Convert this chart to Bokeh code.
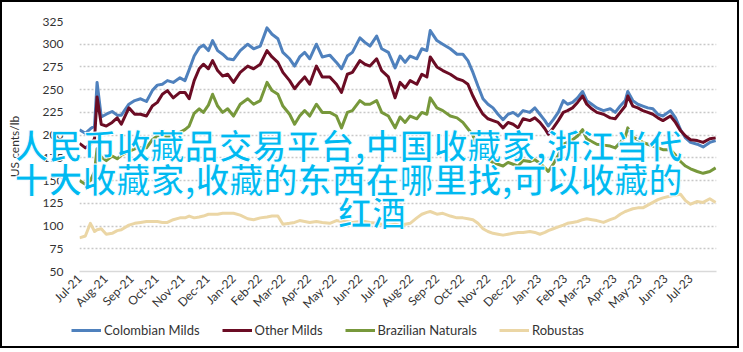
import math
import pandas as pd
from bokeh.plotting import figure
from bokeh.layouts import column
from bokeh.models import Range1d, FixedTicker, Legend, LegendItem, Label, ColumnDataSource
from bokeh.embed import file_html
from bokeh.resources import INLINE

# ---------------- data ----------------
dates = [
    "2021-07-01", "2021-07-08", "2021-07-14", "2021-07-19", "2021-07-22", "2021-07-27",
    "2021-08-02", "2021-08-09", "2021-08-15", "2021-08-20", "2021-08-29",
    "2021-09-05", "2021-09-12", "2021-09-19", "2021-09-26",
    "2021-10-02", "2021-10-08", "2021-10-14", "2021-10-21", "2021-10-29",
    "2021-11-04", "2021-11-09", "2021-11-15", "2021-11-21", "2021-11-26",
    "2021-12-02", "2021-12-07", "2021-12-13", "2021-12-19", "2021-12-25",
    "2022-01-01", "2022-01-09", "2022-01-18", "2022-01-25",
    "2022-02-02", "2022-02-10", "2022-02-16", "2022-02-23",
    "2022-03-01", "2022-03-09", "2022-03-15", "2022-03-21", "2022-03-27",
    "2022-04-02", "2022-04-10", "2022-04-17", "2022-04-26",
    "2022-05-04", "2022-05-10", "2022-05-17", "2022-05-23",
    "2022-06-01", "2022-06-07", "2022-06-13", "2022-06-21", "2022-06-27",
    "2022-07-05", "2022-07-13", "2022-07-19", "2022-07-25", "2022-07-31",
    "2022-08-08", "2022-08-14", "2022-08-20", "2022-08-24",
    "2022-09-01", "2022-09-08", "2022-09-17", "2022-09-25",
    "2022-10-02", "2022-10-08", "2022-10-14", "2022-10-20", "2022-10-26",
    "2022-11-01", "2022-11-07", "2022-11-13", "2022-11-19", "2022-11-25",
    "2022-12-01", "2022-12-07", "2022-12-13", "2022-12-21", "2022-12-27",
    "2023-01-02", "2023-01-08", "2023-01-12", "2023-01-18", "2023-01-24", "2023-01-30",
    "2023-02-04", "2023-02-10", "2023-02-16", "2023-02-22", "2023-02-27",
    "2023-03-05", "2023-03-11", "2023-03-19", "2023-03-27",
    "2023-04-02", "2023-04-08", "2023-04-14", "2023-04-17", "2023-04-23", "2023-04-29",
    "2023-05-05", "2023-05-11", "2023-05-17", "2023-05-23", "2023-05-29",
    "2023-06-07", "2023-06-13", "2023-06-19", "2023-06-25",
    "2023-07-01", "2023-07-09", "2023-07-16", "2023-07-24", "2023-07-31",
]

colombian_milds = [
    206, 202, 207, 210, 258, 220, 223, 226, 222, 222,
    234, 238, 240, 237, 249, 255, 256, 260, 258, 263,
    260, 272, 287, 296, 299, 293, 304, 293, 289, 284,
    283, 293, 300, 295, 298, 318, 311, 306, 291, 284,
    276, 286, 291, 284, 300, 286, 288, 280, 273, 287,
    291, 307, 302, 298, 309, 295, 291, 274, 287, 280,
    287, 284, 295, 293, 315, 304, 300, 295, 289, 289,
    282, 269, 254, 240, 234, 230, 223, 217, 223, 225,
    221, 227, 225, 230, 223, 216, 210, 217, 225, 238,
    234, 236, 241, 248, 238, 234, 230, 227, 229, 225,
    232, 238, 248, 238, 234, 232, 230, 229, 223, 221,
    227, 219, 206, 197, 192, 190, 187, 192, 194,
]

other_milds = [
    191, 186, 190, 196, 242, 212, 210, 214, 219, 212,
    230, 223, 223, 221, 232, 236, 245, 249, 241, 247,
    247, 240, 260, 273, 278, 273, 282, 271, 265, 267,
    258, 269, 276, 273, 278, 293, 286, 280, 269, 260,
    251, 258, 264, 256, 276, 264, 264, 256, 247, 267,
    269, 282, 278, 276, 284, 271, 264, 241, 258, 252,
    260, 256, 267, 264, 286, 275, 271, 267, 262, 260,
    256, 243, 232, 223, 218, 216, 214, 208, 214, 212,
    208, 218, 216, 219, 214, 207, 201, 208, 216, 225,
    227, 230, 236, 243, 234, 229, 225, 223, 219, 218,
    225, 232, 243, 232, 230, 227, 225, 223, 219, 216,
    221, 214, 205, 199, 195, 194, 192, 196, 197,
]

brazilian_naturals = [
    150, 146, 150, 160, 185, 176, 172, 177, 174, 178,
    182, 185, 186, 186, 195, 199, 200, 198, 200, 203,
    206, 210, 224, 229, 225, 233, 245, 232, 225, 229,
    221, 234, 240, 234, 238, 258, 249, 245, 232, 223,
    212, 221, 227, 221, 234, 225, 225, 221, 208, 225,
    227, 238, 234, 234, 238, 225, 221, 208, 220, 214,
    221, 218, 225, 223, 241, 230, 227, 221, 219, 214,
    207, 200, 185, 177, 173, 170, 168, 166, 170, 168,
    166, 172, 171, 173, 169, 164, 160, 168, 178, 190,
    192, 195, 199, 206, 196, 193, 190, 189, 188, 186,
    192, 198, 208, 198, 195, 192, 190, 188, 186, 184,
    184, 178, 171, 166, 163, 160, 158, 160, 164,
]

robustas = [
    87, 89, 103, 94, 96, 97, 91, 92, 95, 96,
    101, 103, 104, 105, 105, 105, 104, 104, 107, 109,
    109, 111, 109, 110, 111, 113, 113, 113, 114, 114,
    114, 112, 108, 107, 109, 110, 111, 111, 102, 103,
    104, 106, 105, 104, 105, 104, 103, 106, 105, 105,
    104, 105, 105, 104, 103, 102, 101, 102, 101, 102,
    103, 109, 113, 115, 116, 113, 114, 111, 109, 109,
    108, 107, 103, 97, 94, 92, 91, 90, 91, 92,
    93, 93, 94, 93, 91, 93, 95, 97, 99, 101,
    103, 104, 105, 107, 108, 107, 106, 104, 107, 109,
    113, 116, 117, 119, 120, 120, 123, 126, 129, 131,
    133, 134, 135, 128, 124, 127, 126, 130, 126,
]

series_names = ["Colombian Milds", "Other Milds", "Brazilian Naturals", "Robustas"]
series_colors = ["#4F81BD", "#6B0C24", "#77983B", "#EBD6A5"]

month_labels = [
    "Jul-21", "Aug-21", "Sep-21", "Oct-21", "Nov-21", "Dec-21",
    "Jan-22", "Feb-22", "Mar-22", "Apr-22", "May-22", "Jun-22",
    "Jul-22", "Aug-22", "Sep-22", "Oct-22", "Nov-22", "Dec-22",
    "Jan-23", "Feb-23", "Mar-23", "Apr-23", "May-23", "Jun-23", "Jul-23",
]
y_ticks = [50, 75, 100, 125, 150, 175, 200, 225, 250, 275, 300, 325]
y_axis_title = "US cents/lb"

overlay_lines = [
    "人民币收藏品交易平台,中国收藏家,浙江当代",
    "十大收藏家,收藏的东西在哪里找,可以收藏的",
    "红酒",
]

# ---------------- main chart ----------------
FONT = "Lato"
W, H = 739, 348
x = pd.to_datetime(pd.Series(dates))
tick_dates = [pd.Timestamp("20" + m[-2:] + "-" + m[:3] + "-01") for m in month_labels]
tick_ms = [t.value // 10**6 for t in tick_dates]

p = figure(
    width=W, height=H,
    x_axis_type="datetime",
    x_range=Range1d(pd.Timestamp("2021-07-01"), pd.Timestamp("2023-08-01")),
    y_range=Range1d(y_ticks[0], y_ticks[-1]),
    output_backend="svg", toolbar_location=None,
    min_border_left=77, min_border_right=25, min_border_top=19, min_border_bottom=79,
)
p.frame_align = False
p.styles = {"border": "2px solid black"}
p.outline_line_color = None
p.background_fill_color = "white"
p.border_fill_color = "white"

src = ColumnDataSource(dict(x=x, c=colombian_milds, o=other_milds,
                            b=brazilian_naturals, r=robustas))
keys = ["c", "o", "b", "r"]
for key, col in zip(keys, series_colors):
    p.line("x", key, source=src, line_color=col, line_width=3, line_join="round")

p.xaxis.ticker = FixedTicker(ticks=tick_ms)
p.xaxis.major_label_overrides = {ms: lab for ms, lab in zip(tick_ms, month_labels)}
p.xaxis.major_label_orientation = math.pi / 4
p.xaxis.major_tick_line_color = None
p.xaxis.minor_tick_line_color = None
p.xaxis.major_tick_out = 0
p.xaxis.major_tick_in = 0
p.xaxis.axis_line_color = "#D9D9D9"
p.xaxis.axis_line_width = 1.5
p.xaxis.major_label_standoff = 5
p.xaxis.major_label_text_font = FONT
p.xaxis.major_label_text_font_size = "12px"
p.xaxis.major_label_text_color = "#333333"

p.yaxis.ticker = FixedTicker(ticks=y_ticks)
p.yaxis.axis_line_color = None
p.yaxis.major_tick_line_color = None
p.yaxis.minor_tick_line_color = None
p.yaxis.major_tick_out = 0
p.yaxis.major_tick_in = 0
p.yaxis.major_label_standoff = 16
p.yaxis.major_label_text_font = FONT
p.yaxis.major_label_text_font_size = "12px"
p.yaxis.major_label_text_color = "#333333"
p.yaxis.axis_label = y_axis_title
p.yaxis.axis_label_text_font = FONT
p.yaxis.axis_label_text_font_size = "12px"
p.yaxis.axis_label_text_font_style = "normal"
p.yaxis.axis_label_text_color = "#333333"
p.yaxis.axis_label_standoff = 18

p.xgrid.grid_line_color = None
p.ygrid.grid_line_color = "#C8C8C8"
p.ygrid.grid_line_width = 1.5
p.ygrid.grid_line_dash = "2 2"

# ---------------- transparent overlay (legend + overlay text) ----------------
# its frame covers the whole canvas, so nothing is clipped; 1 unit = 1 px
ov = figure(
    width=W, height=H, x_range=Range1d(0, W), y_range=Range1d(0, H),
    output_backend="svg", toolbar_location=None,
    min_border=0, min_border_left=0, min_border_right=0,
    min_border_top=0, min_border_bottom=0,
    x_axis_location=None, y_axis_location=None,
)
ov.frame_align = False
ov.styles = {"margin-top": "-350px", "margin-left": "2px"}
ov.outline_line_color = None
ov.background_fill_alpha = 0
ov.border_fill_alpha = 0
ov.grid.visible = False

# legend entries use the same series (their dates lie far outside this overlay's range)
proxies = [ov.line("x", k, source=src, line_color=c, line_width=3)
           for k, c in zip(keys, series_colors)]
legend = Legend(
    items=[LegendItem(label=n, renderers=[r]) for n, r in zip(series_names, proxies)],
    orientation="horizontal", location=(69, 8),
    padding=0, margin=0, spacing=22, label_standoff=3,
    glyph_width=30, glyph_height=14, label_height=14,
    border_line_color=None, background_fill_alpha=0,
    label_text_font=FONT, label_text_font_size="13px", label_text_color="#333333",
)
ov.add_layout(legend)

CJK = "Noto Sans CJK SC"
overlay_pos = [(12, 202, "left"), (12, 168, "left"), (369.5, 135, "center")]
for txt, (lx, ly, al) in zip(overlay_lines, overlay_pos):
    ov.add_layout(Label(
        x=lx, y=ly, text=txt,
        text_font=CJK, text_font_size="34px", text_color="#00B9F1",
        text_font_style="bold",
        text_align=al, text_baseline="middle",
        text_outline_color="white",
    ))

layout = column(p, ov)
open("out.html", "w").write(file_html(layout, INLINE))
